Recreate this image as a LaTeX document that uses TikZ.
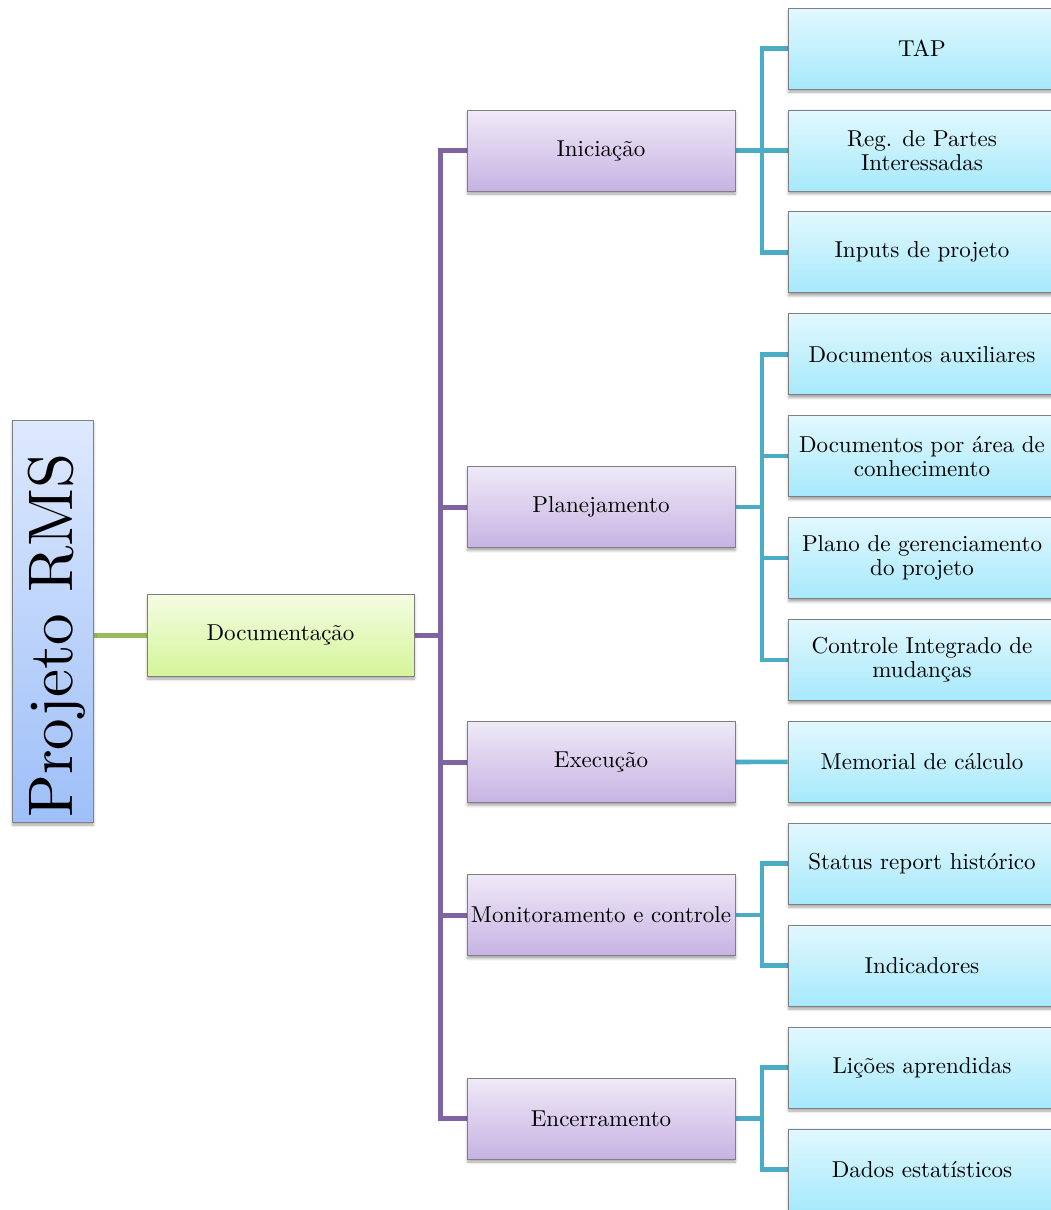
\documentclass[tikz,border=0pt]{standalone}
\usepackage{fontspec}
\setmainfont{lmroman10-regular}[Extension=.otf, BoldFont=lmroman10-bold,
  ItalicFont=lmroman10-italic, BoldItalicFont=lmroman10-bolditalic]
\usetikzlibrary{shadows.blur,backgrounds}

\definecolor{boxedge}{HTML}{7F7F7F}
\definecolor{roottop}{HTML}{DDE9FD}
\definecolor{rootbot}{HTML}{9EBFF8}
\definecolor{doctop}{HTML}{F5FCE3}
\definecolor{docbot}{HTML}{D4F599}
\definecolor{phasetop}{HTML}{EFE9F7}
\definecolor{phasebot}{HTML}{C7B3E3}
\definecolor{leaftop}{HTML}{E2F8FE}
\definecolor{leafbot}{HTML}{A6E9FC}
\definecolor{greenline}{HTML}{9BBB59}
\definecolor{purpleline}{HTML}{8064A2}
\definecolor{blueline}{HTML}{4BACC6}

\begin{document}
\begin{tikzpicture}[x=1pt,y=-1pt,
  box/.style={draw=boxedge, line width=0.8pt, inner sep=0pt, align=center,
    minimum width=268pt, minimum height=81pt,
    font=\fontsize{23}{24}\selectfont,
    blur shadow={shadow xshift=0.5pt, shadow yshift=-3pt,
      shadow blur radius=2.5pt, shadow opacity=35}},
  rootbox/.style={box, top color=roottop, bottom color=rootbot,
    minimum width=81pt, minimum height=402pt},
  docbox/.style={box, top color=doctop, bottom color=docbot,
    minimum width=267pt, minimum height=82pt},
  phase/.style={box, top color=phasetop, bottom color=phasebot},
  leaf/.style={box, top color=leaftop, bottom color=leafbot},
  glink/.style={draw=greenline, line width=5pt},
  plink/.style={draw=purpleline, line width=5pt},
  blink/.style={draw=blueline, line width=4.6pt}
]
\useasboundingbox (0,0) rectangle (1050,1210);

% root
\node[rootbox] (root) at (52.5,621) {};
\node[rotate=90, anchor=base, inner sep=0pt,
  font=\fontsize{63}{70}\selectfont] (roottext) at (72,635.5) {Projeto RMS};

% second level
\node[docbox] (doc) at (280.5,635) {Documentação};

% phases
\node[phase] (ini)  at (601,150.5)  {Iniciação};
\node[phase] (plan) at (601,507)    {Planejamento};
\node[phase] (exe)  at (601,762)    {Execução};
\node[phase] (mon)  at (601,915)    {Monitoramento e controle};
\node[phase] (enc)  at (601,1118.5) {Encerramento};

% deliverables
\node[leaf] (tap)   at (922,48.5)   {TAP};
\node[leaf] (reg)   at (922,150.4)  {Reg. de Partes\\Interessadas};
\node[leaf] (inp)   at (922,252.3)  {Inputs de projeto};
\node[leaf] (aux)   at (922,354.2)  {Documentos auxiliares};
\node[leaf] (area)  at (922,456.1)  {Documentos por área de\\conhecimento};
\node[leaf] (plano) at (922,558)    {Plano de gerenciamento\\do projeto};
\node[leaf] (cim)   at (922,659.9)  {Controle Integrado de\\mudanças};
\node[leaf] (mem)   at (922,761.8)  {Memorial de cálculo};
\node[leaf] (stat)  at (922,863.7)  {Status report histórico};
\node[leaf] (ind)   at (922,965.6)  {Indicadores};
\node[leaf] (lic)   at (922,1067.5) {Lições aprendidas};
\node[leaf] (dados) at (922,1169.4) {Dados estatísticos};

\begin{scope}[on background layer]
  \draw[glink] (root.east |- doc.west) -- (doc.west);
  \foreach \p in {ini,plan,exe,mon,enc}
    \draw[plink] (doc.east) -- ++(26,0) |- (\p.west);
  \foreach \c in {tap,reg,inp}
    \draw[blink] (ini.east) -- ++(26.5,0) |- (\c.west);
  \foreach \c in {aux,area,plano,cim}
    \draw[blink] (plan.east) -- ++(26.5,0) |- (\c.west);
  \draw[blink] (exe.east) -- (mem.west);
  \foreach \c in {stat,ind}
    \draw[blink] (mon.east) -- ++(26.5,0) |- (\c.west);
  \foreach \c in {lic,dados}
    \draw[blink] (enc.east) -- ++(26.5,0) |- (\c.west);
\end{scope}
\end{tikzpicture}
\end{document}
